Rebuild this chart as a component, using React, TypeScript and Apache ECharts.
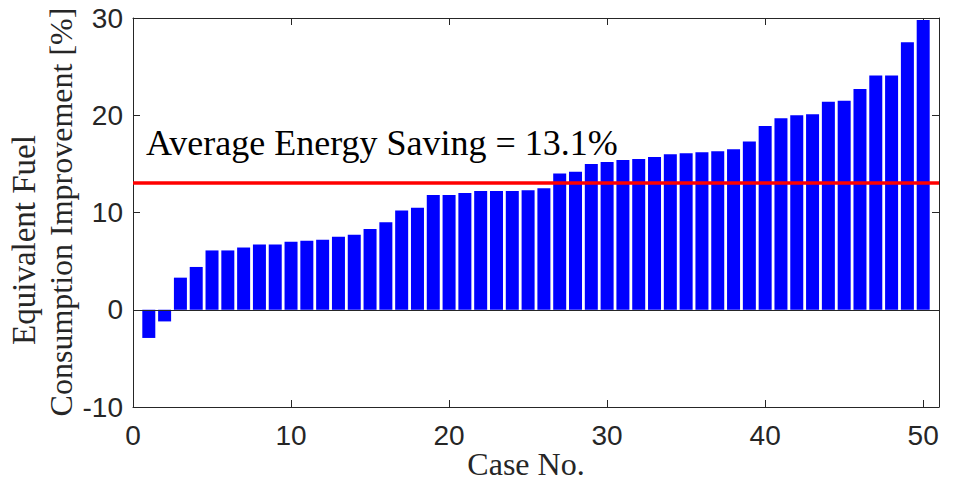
import React, { useEffect, useRef } from "react";
import * as echarts from "echarts";

const improvement: number[] = [
  -2.9, -1.2, 3.3, 4.4, 6.1, 6.1, 6.4, 6.7, 6.7, 7.0,
  7.1, 7.2, 7.5, 7.7, 8.3, 9.0, 10.2, 10.5, 11.8, 11.8,
  12.0, 12.2, 12.2, 12.2, 12.3, 12.5, 14.0, 14.2, 15.0, 15.2,
  15.4, 15.5, 15.7, 16.0, 16.1, 16.2, 16.3, 16.5, 17.3, 18.9,
  19.7, 20.0, 20.1, 21.4, 21.5, 22.7, 24.1, 24.1, 27.5, 29.8,
];
const caseNumbers: number[] = improvement.map((_, i) => i + 1);
const averageSaving = 13.1;
const xTicks = { min: 0, max: 51, interval: 10 };
const yTicks = { min: -10, max: 30, interval: 10 };

const axisColor = "#262626";
const tickFont = "Liberation Sans";
const serif = "Liberation Serif";

export default function App() {
  const ref = useRef<HTMLDivElement>(null);
  useEffect(() => {
    if (!ref.current) return;
    const chart = echarts.init(ref.current, undefined, { renderer: "svg" });
    const axisLine = { show: true, onZero: false, lineStyle: { color: axisColor, width: 1 } };
    const axisTick = { show: true, inside: true, length: 7, lineStyle: { color: axisColor, width: 1 } };
    chart.setOption({
      animation: false,
      grid: { left: 133, right: 17, top: 18, bottom: 78, containLabel: false, outerBoundsMode: "none" },
      xAxis: [
        {
          type: "value",
          ...xTicks,
          axisLine,
          axisTick,
          splitLine: { show: false },
          axisLabel: { color: axisColor, fontSize: 28, fontFamily: tickFont, margin: 14, showMaxLabel: false },
        },
        {
          type: "value",
          position: "top",
          ...xTicks,
          axisLine,
          axisTick,
          splitLine: { show: false },
          axisLabel: { show: false },
        },
      ],
      yAxis: [
        {
          type: "value",
          ...yTicks,
          axisLine,
          axisTick,
          splitLine: { show: false },
          axisLabel: { color: axisColor, fontSize: 28, fontFamily: tickFont, margin: 10 },
        },
        {
          type: "value",
          position: "right",
          ...yTicks,
          axisLine,
          axisTick,
          splitLine: { show: false },
          axisLabel: { show: false },
        },
      ],
      series: [
        {
          type: "bar",
          data: caseNumbers.map((c, i) => [c, improvement[i]]),
          barWidth: 13,
          itemStyle: { color: "#0000ff" },
          markLine: {
            symbol: "none",
            silent: true,
            label: { show: false },
            data: [
              { yAxis: 0, lineStyle: { color: axisColor, width: 1, type: "solid" } },
              { yAxis: averageSaving, lineStyle: { color: "#ff0000", width: 3.5, type: "solid" } },
            ],
          },
        },
      ],
      graphic: [
        {
          type: "text",
          x: 146,
          y: 143,
          style: {
            text: `Average Energy Saving = ${averageSaving}%`,
            fontSize: 36,
            fontFamily: serif,
            fill: "#000000",
            align: "left",
            verticalAlign: "middle",
          },
        },
        {
          type: "text",
          x: 24,
          y: 240,
          rotation: Math.PI / 2,
          style: {
            text: "Equivalent Fuel",
            fontSize: 33,
            fontFamily: serif,
            fill: axisColor,
            align: "center",
            verticalAlign: "middle",
          },
        },
        {
          type: "text",
          x: 61,
          y: 212,
          rotation: Math.PI / 2,
          style: {
            text: "Consumption Improvement [%]",
            fontSize: 32,
            fontFamily: serif,
            fill: axisColor,
            align: "center",
            verticalAlign: "middle",
          },
        },
        {
          type: "text",
          x: 526,
          y: 464,
          style: {
            text: "Case No.",
            fontSize: 32,
            fontFamily: serif,
            fill: axisColor,
            align: "center",
            verticalAlign: "middle",
          },
        },
      ],
    });
    return () => chart.dispose();
  }, []);
  return (
    <div
      ref={ref}
      style={{ position: "fixed", left: 0, top: 0, width: 956, height: 485, background: "#ffffff" }}
    />
  );
}
